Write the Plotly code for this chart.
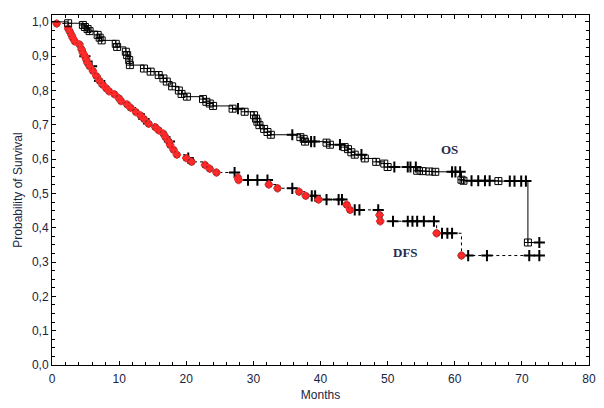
import numpy as np
import plotly.graph_objects as go

# Overall survival (OS): event times (months) and survival after each event
os_event_t = [2.4, 4.6, 4.9, 5.3, 5.6, 6.8, 7.1, 7.4, 9.5, 9.7, 11.0, 11.2, 11.5, 11.6,
              13.7, 14.7, 15.9, 16.6, 17.1, 17.9, 18.9, 19.3, 20.1, 22.5, 23.0, 23.5, 24.0,
              26.9, 28.7, 30.1, 30.4, 30.6, 30.9, 31.6, 32.1, 32.6, 37.0, 37.5, 37.7,
              40.9, 41.4, 43.6, 44.1, 44.6, 45.1, 46.6, 48.3, 49.5, 50.0, 54.4, 55.2,
              56.2, 57.1, 61.0, 61.3, 66.5, 70.9]
os_event_s = [0.996, 0.991, 0.985, 0.979, 0.973, 0.962, 0.954, 0.946, 0.936, 0.927, 0.913,
              0.903, 0.889, 0.874, 0.864, 0.855, 0.845, 0.835, 0.826, 0.812, 0.800, 0.790,
              0.782, 0.775, 0.767, 0.762, 0.755, 0.747, 0.738, 0.728, 0.718, 0.709, 0.699,
              0.688, 0.679, 0.671, 0.664, 0.659, 0.651, 0.648, 0.642, 0.635, 0.629, 0.620,
              0.613, 0.602, 0.592, 0.587, 0.577, 0.566, 0.565, 0.564, 0.563, 0.540, 0.537,
              0.536, 0.357]
os_censored_t = [27.7, 35.8, 38.6, 39.1, 42.9, 46.1, 51.0, 53.0, 53.4, 54.2, 59.6, 60.1,
                 60.8, 62.5, 63.5, 64.5, 65.2, 68.2, 68.9, 69.9, 70.6, 72.6]

# Disease-free survival (DFS)
dfs_event_t = [0.7, 2.4, 2.65, 2.9, 3.1, 3.4, 4.1, 4.4, 4.6, 4.9, 5.1, 5.3, 5.6, 6.1, 6.6,
               7.1, 7.6, 8.1, 8.5, 9.3, 10.0, 10.3, 11.2, 11.7, 12.5, 13.2, 13.7, 14.4,
               15.4, 15.9, 16.6, 16.9, 17.4, 17.6, 18.1, 18.6, 20.0, 20.8, 22.8, 23.5, 24.5,
               27.7, 27.8, 32.3, 33.6, 36.8, 37.8, 39.7, 43.9, 44.4, 48.8, 48.9, 57.3, 61.0]
dfs_event_s = [0.995, 0.981, 0.972, 0.962, 0.953, 0.943, 0.934, 0.920, 0.910, 0.900, 0.890,
               0.880, 0.871, 0.857, 0.842, 0.828, 0.816, 0.806, 0.798, 0.789, 0.777, 0.769,
               0.759, 0.750, 0.737, 0.727, 0.717, 0.703, 0.693, 0.684, 0.674, 0.664, 0.651,
               0.641, 0.627, 0.613, 0.603, 0.592, 0.583, 0.572, 0.561, 0.546, 0.539, 0.526,
               0.515, 0.505, 0.493, 0.482, 0.467, 0.452, 0.437, 0.419, 0.384, 0.319]
dfs_censored_t = [4.9, 5.9, 7.1, 13.7, 17.5, 20.3, 27.2, 29.2, 30.6, 32.1, 35.8, 38.7, 39.2,
                  40.9, 42.7, 43.2, 45.1, 45.8, 48.6, 50.8, 53.0, 53.7, 54.4, 55.4, 56.9,
                  58.1, 58.9, 59.6, 62.0, 64.8, 71.1, 72.6]

x_ticks = [0, 10, 20, 30, 40, 50, 60, 70, 80]
y_ticks = [0.0, 0.1, 0.2, 0.3, 0.4, 0.5, 0.6, 0.7, 0.8, 0.9, 1.0]


def step_curve(ev_t, ev_s, cens_t):
    t_all = [0.0] + list(ev_t)
    s_all = [1.0] + list(ev_s)
    end = max(max(cens_t), max(ev_t))
    t_line = t_all + [end]
    s_line = s_all + [s_all[-1]]
    et = np.array(t_all)
    es = np.array(s_all)
    cens_s = [es[np.searchsorted(et, c, side="right") - 1] for c in cens_t]
    return t_line, s_line, cens_s


os_tl, os_sl, os_cs = step_curve(os_event_t, os_event_s, os_censored_t)
dfs_tl, dfs_sl, dfs_cs = step_curve(dfs_event_t, dfs_event_s, dfs_censored_t)

fig = go.Figure()

# DFS
fig.add_trace(go.Scatter(x=dfs_tl, y=dfs_sl, mode="lines", line_shape="hv",
                         line=dict(color="black", width=1, dash="dot"), showlegend=False))
fig.add_trace(go.Scatter(x=dfs_censored_t, y=dfs_cs, mode="markers",
                         marker=dict(symbol="cross-thin-open", size=8, color="black",
                                     line=dict(color="black", width=2)), showlegend=False))
fig.add_trace(go.Scatter(x=dfs_event_t, y=dfs_event_s, mode="markers",
                         marker=dict(symbol="circle", size=7, color="#ff1a1a",
                                     line=dict(color="rgba(60,60,60,0.65)", width=1)),
                         showlegend=False))
fig.add_trace(go.Scatter(x=dfs_event_t, y=dfs_event_s, mode="markers",
                         marker=dict(symbol="cross-thin-open", size=6, color="#ff2a2a",
                                     line=dict(color="#ff2a2a", width=2)),
                         showlegend=False))

# OS
fig.add_trace(go.Scatter(x=os_tl, y=os_sl, mode="lines", line_shape="hv",
                         line=dict(color="black", width=1), showlegend=False))
fig.add_trace(go.Scatter(x=os_censored_t, y=os_cs, mode="markers",
                         marker=dict(symbol="cross-thin-open", size=8, color="black",
                                     line=dict(color="black", width=2)), showlegend=False))
fig.add_trace(go.Scatter(x=os_event_t, y=os_event_s, mode="markers",
                         marker=dict(symbol="square-cross-open", size=7, color="black",
                                     line=dict(color="black", width=1)), showlegend=False))

lab_font = dict(family="Liberation Serif", size=13, color="#1f2d4d")
fig.add_annotation(x=59.2, y=0.627, text="<b>OS</b>", showarrow=False, font=lab_font)
fig.add_annotation(x=52.7, y=0.327, text="<b>DFS</b>", showarrow=False, font=lab_font)

tfont = dict(family="Liberation Sans", size=12, color="#1a2440")
axis_common = dict(showline=True, linecolor="black", linewidth=1, mirror="allticks",
                   ticks="inside", ticklen=4, tickcolor="black", showgrid=False,
                   zeroline=False, tickfont=tfont)
fig.update_xaxes(range=[0, 80], tickvals=x_ticks, ticklabelstandoff=3,
                 minor=dict(dtick=2, ticks="inside", ticklen=3, tickcolor="black"),
                 title=dict(text="Months", font=tfont, standoff=5),
                 **axis_common)
fig.update_yaxes(range=[0, 1.02], tickvals=y_ticks, tickformat=".1f",
                 minor=dict(dtick=0.025, ticks="inside", ticklen=3, tickcolor="black"),
                 title=dict(text="Probability of Survival", font=tfont, standoff=6),
                 **axis_common)

fig.update_layout(width=604, height=408, separators=",.",
                  margin=dict(l=52, r=8, t=15, b=40),
                  plot_bgcolor="white", paper_bgcolor="white")

fig.write_html("out.html", config={"displayModeBar": False},
               post_script="document.body.style.margin='0px';")
